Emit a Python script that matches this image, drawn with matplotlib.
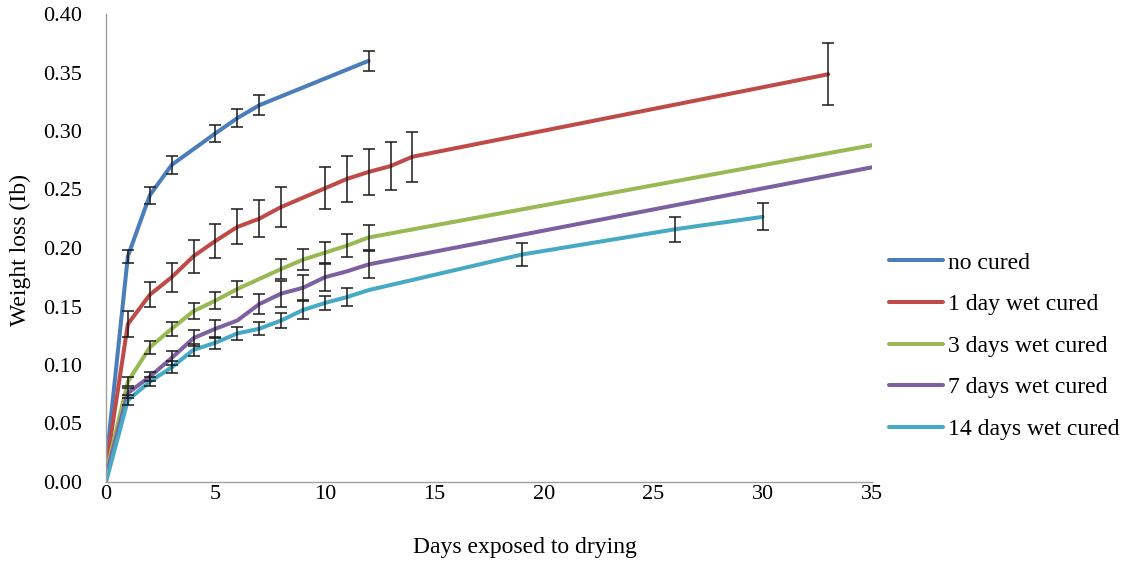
import numpy as np
import matplotlib
matplotlib.use("Agg")
import matplotlib.pyplot as plt

nan = np.nan

# Weight loss measurements (lb) against days of drying, with standard deviations
labels = ["no cured", "1 day wet cured", "3 days wet cured",
          "7 days wet cured", "14 days wet cured"]

no_cured_days = [0, 1, 2, 3, 5, 6, 7, 12]
no_cured_loss = [0.015, 0.193, 0.245, 0.271, 0.298, 0.311, 0.322, 0.360]
no_cured_sd = [nan, 0.0057, 0.0071, 0.0077, 0.0075, 0.008, 0.0085, 0.0085]

wet1_days = [0, 1, 2, 3, 4, 5, 6, 7, 8, 10, 11, 12, 13, 14, 33]
wet1_loss = [0.012, 0.135, 0.160, 0.175, 0.193, 0.206, 0.218, 0.225, 0.235,
             0.251, 0.259, 0.265, 0.270, 0.278, 0.3485]
wet1_sd = [nan, 0.011, 0.0107, 0.0124, 0.014, 0.0145, 0.015, 0.016, 0.017,
           0.018, 0.0198, 0.020, 0.0207, 0.0214, 0.0267]

wet3_days = [0, 1, 2, 3, 4, 5, 6, 8, 9, 10, 11, 12, 40]
wet3_loss = [0.008, 0.0857, 0.115, 0.131, 0.146, 0.155, 0.165, 0.182, 0.190,
             0.196, 0.202, 0.209, 0.305]
wet3_sd = [nan, 0.004, 0.0054, 0.006, 0.0067, 0.0071, 0.0071, 0.0085, 0.0088,
           0.0092, 0.0097, 0.011, nan]

wet7_days = [0, 1, 2, 3, 4, 5, 6, 7, 8, 9, 10, 11, 12, 40]
wet7_loss = [0.005, 0.076, 0.090, 0.106, 0.123, 0.131, 0.138, 0.152, 0.161,
             0.166, 0.175, 0.180, 0.186, 0.287]
wet7_sd = [nan, 0.004, 0.004, 0.006, 0.0067, 0.0078, nan, 0.0085, 0.011,
           0.0107, 0.0117, nan, 0.0117, nan]

wet14_days = [0, 1, 2, 3, 4, 5, 6, 7, 8, 9, 10, 11, 12, 19, 26, 30]
wet14_loss = [0.0, 0.070, 0.0857, 0.098, 0.113, 0.119, 0.127, 0.131, 0.138,
              0.147, 0.153, 0.158, 0.164, 0.1944, 0.216, 0.2266]
wet14_sd = [nan, 0.004, 0.004, 0.005, 0.005, 0.0053, 0.0058, 0.0057, 0.0064,
            0.0074, 0.0063, 0.0076, nan, 0.0096, 0.0107, 0.0115]

colors = ["#4A7EBB", "#BE4B48", "#98B954", "#7D60A0", "#46AAC5"]

x_ticks = [0, 5, 10, 15, 20, 25, 30, 35]
y_ticks = [0.00, 0.05, 0.10, 0.15, 0.20, 0.25, 0.30, 0.35, 0.40]

series = [
    (no_cured_days, no_cured_loss, no_cured_sd),
    (wet1_days, wet1_loss, wet1_sd),
    (wet3_days, wet3_loss, wet3_sd),
    (wet7_days, wet7_loss, wet7_sd),
    (wet14_days, wet14_loss, wet14_sd),
]

plt.rcParams["font.family"] = ["Liberation Serif", "DejaVu Serif"]

fig = plt.figure(figsize=(11.33, 5.65), dpi=100)
ax = fig.add_axes([106 / 1133, 1 - 482 / 565, 766 / 1133, 468 / 565])

for (d, v, e), c, lab in zip(series, colors, labels):
    ax.plot(d, v, color=c, lw=2.9, label=lab, zorder=2,
            solid_capstyle="round", solid_joinstyle="round")
    ax.errorbar(d, v, yerr=e, fmt="none", ecolor="#1a1a1a", elinewidth=1.1,
                capsize=4, capthick=1.1, zorder=3)

ax.set_xlim(0, 35)
ax.set_ylim(0, 0.40)
ax.set_xticks(x_ticks)
ax.set_yticks(y_ticks)
ax.set_xticklabels([str(t) for t in x_ticks])
ax.set_yticklabels([f"{t:.2f}" for t in y_ticks])
ax.tick_params(axis="both", length=0, labelsize=16, colors="#000000")
ax.tick_params(axis="y", pad=17)
ax.tick_params(axis="x", pad=2)

for side in ("top", "right"):
    ax.spines[side].set_visible(False)
for side in ("left", "bottom"):
    ax.spines[side].set_color("#A0A0A0")
    ax.spines[side].set_linewidth(1.0)

ax.set_xlabel("Days exposed to drying", fontsize=17)
ax.set_ylabel("Weight loss (Ib)", fontsize=17)
ax.xaxis.set_label_coords(0.547, -0.118)
ax.yaxis.set_label_coords(-0.098, 0.496)

fig.legend(loc="center left", bbox_to_anchor=(877 / 1133, 1 - 346 / 565),
           frameon=False, fontsize=17, handlelength=2.3, handletextpad=0.22,
           labelspacing=0.85, borderpad=0)

fig.savefig("out.png", dpi=100)
